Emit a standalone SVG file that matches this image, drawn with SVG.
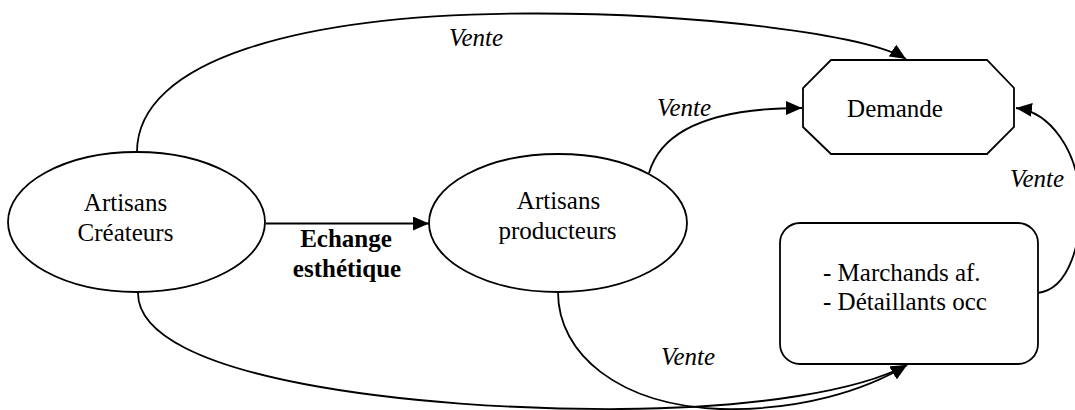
<svg xmlns="http://www.w3.org/2000/svg" width="1075" height="410" viewBox="0 0 1075 410">
<style>
.shape{fill:#fff;stroke:#000;stroke-width:1.8}
.conn{fill:none;stroke:#000;stroke-width:1.8}
text{font-family:"Liberation Serif","Times New Roman",serif;font-size:25px;fill:#000}
.it{font-style:italic}
.b{font-weight:bold}
.c{text-anchor:middle}
</style>
<defs>
<marker id="arr" markerUnits="userSpaceOnUse" markerWidth="17" markerHeight="14" refX="16" refY="7" orient="auto">
<path d="M0,0 L16,7 L0,14 z" fill="#000"/>
</marker>
</defs>
<rect width="1075" height="410" fill="#fff"/>
<g id="connectors">
<path class="conn" d="M137,152 C137,60 300,14 530,13.5 C700,13 868,35 906,59" marker-end="url(#arr)"/>
<path class="conn" d="M266,223.5 L429,223.5" marker-end="url(#arr)"/>
<path class="conn" d="M649,173 C662,128 715,108 802,108" marker-end="url(#arr)"/>
<path class="conn" d="M138,293 C138,380 420,410 620,409 C760,408 860,390 907,365" marker-end="url(#arr)"/>
<path class="conn" d="M558,292 C558,355 620,405 720,409 C800,411 866,390 907,365" marker-end="url(#arr)"/>
<path class="conn" d="M1037,293 C1070,290 1082,240 1080,200 C1078,150 1050,112 1016,108" marker-end="url(#arr)"/>
<text class="it" x="449" y="46">Vente</text>
<text class="it" x="657" y="116">Vente</text>
<text class="it" x="1010" y="187">Vente</text>
<text class="it" x="661" y="365">Vente</text>
<text class="b c" x="346" y="247">Echange</text>
<text class="b c" x="347" y="277">esthétique</text>
</g>
<g id="artisans-createurs">
<ellipse class="shape" cx="136.5" cy="222" rx="128.5" ry="70"/>
<text class="c" x="125.5" y="211">Artisans</text>
<text class="c" x="125.5" y="241">Créateurs</text>
</g>
<g id="artisans-producteurs">
<ellipse class="shape" cx="558" cy="223" rx="129" ry="69"/>
<text class="c" x="558.5" y="209">Artisans</text>
<text class="c" x="557.5" y="239">producteurs</text>
</g>
<g id="demande">
<polygon class="shape" points="831,60 987,60 1014,88 1014,127 987,154 831,154 803,127 803,88"/>
<text class="c" x="895" y="117">Demande</text>
</g>
<g id="marchands">
<rect class="shape" x="780" y="223" width="258" height="141" rx="20" ry="20"/>
<text x="823" y="281">- Marchands af.</text>
<text x="823" y="310">- Détaillants occ</text>
</g>
</svg>
